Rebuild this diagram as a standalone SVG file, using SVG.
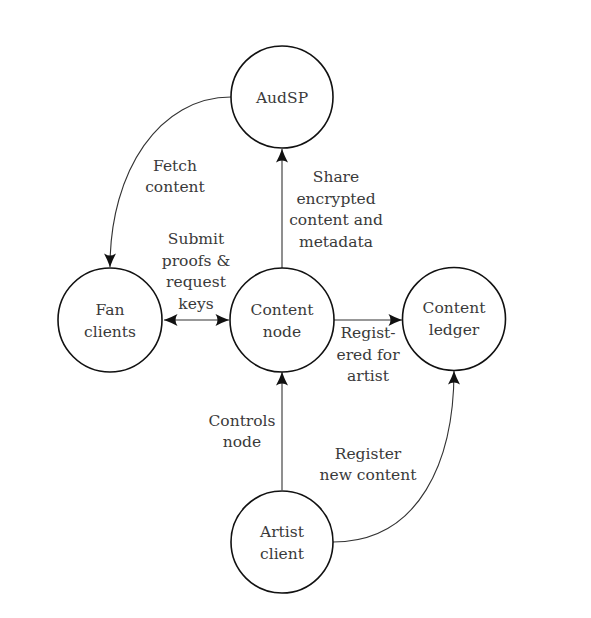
<svg xmlns="http://www.w3.org/2000/svg" width="591" height="618" viewBox="0 0 591 618">
<defs>
<style>
.node circle{fill:#fff;stroke:#111;stroke-width:1.6}
text{font-family:"DejaVu Serif",serif;font-size:15.5px;fill:#3a3a3a;text-anchor:middle}
.edge{fill:none;stroke:#333;stroke-width:1.1}
</style>
<marker id="ah" viewBox="-15 -8 16 16" markerWidth="16" markerHeight="16" refX="0" refY="0" orient="auto-start-reverse" markerUnits="userSpaceOnUse">
<path d="M0,0 Q-7,-2.5 -13.5,-6 Q-9.5,0 -13.5,6 Q-7,2.5 0,0 Z" fill="#111"/>
</marker>
</defs>
<rect width="591" height="618" fill="#fff"/>
<g id="connectors">
<path class="edge" d="M231,97 C160,97 110,170 110,267" marker-end="url(#ah)"/>
<path class="edge" d="M282,268 L282,149" marker-end="url(#ah)"/>
<path class="edge" d="M164,320 L229,320" marker-start="url(#ah)" marker-end="url(#ah)"/>
<path class="edge" d="M334,320 L402,320" marker-end="url(#ah)"/>
<path class="edge" d="M282,490 L282,372" marker-end="url(#ah)"/>
<path class="edge" d="M333,542 C420,542 454,460 454,371" marker-end="url(#ah)"/>
</g>
<g id="labels">
<text x="175" y="171">Fetch</text>
<text x="175" y="192">content</text>
<text x="336" y="182">Share</text>
<text x="336" y="204">encrypted</text>
<text x="336" y="225">content and</text>
<text x="336" y="247">metadata</text>
<text x="196" y="244">Submit</text>
<text x="196" y="266">proofs &amp;</text>
<text x="196" y="287">request</text>
<text x="196" y="309">keys</text>
<text x="368" y="338">Regist-</text>
<text x="368" y="360">ered for</text>
<text x="368" y="381">artist</text>
<text x="242" y="426">Controls</text>
<text x="242" y="447">node</text>
<text x="368" y="459">Register</text>
<text x="368" y="480">new content</text>
</g>
<g id="audsp" class="node">
<circle cx="282" cy="97" r="51"/>
<text x="282" y="103">AudSP</text>
</g>
<g id="fan-clients" class="node">
<circle cx="110" cy="320" r="52"/>
<text x="110" y="315">Fan</text>
<text x="110" y="337">clients</text>
</g>
<g id="content-node" class="node">
<circle cx="282" cy="320" r="52"/>
<text x="282" y="315">Content</text>
<text x="282" y="337">node</text>
</g>
<g id="content-ledger" class="node">
<circle cx="454" cy="319" r="51.5"/>
<text x="454" y="313">Content</text>
<text x="454" y="335">ledger</text>
</g>
<g id="artist-client" class="node">
<circle cx="282" cy="542" r="51"/>
<text x="282" y="537">Artist</text>
<text x="282" y="559">client</text>
</g>
</svg>
